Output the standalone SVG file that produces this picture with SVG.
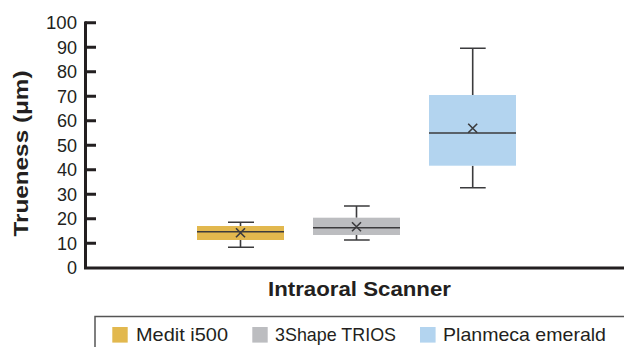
<svg xmlns="http://www.w3.org/2000/svg" width="624" height="347" viewBox="0 0 624 347">
<style>
text{font-family:"Liberation Sans",Arial,sans-serif;fill:#231f20}
.tick{font-size:18px;text-anchor:end}
.title{font-size:20px;font-weight:bold;text-anchor:middle}
.leg{font-size:18.5px}
.axis{stroke:#231f20;stroke-width:3;fill:none}
.wh{stroke:#3b3b3d;stroke-width:1.6;fill:none}
.med{stroke:#3b3b3d;stroke-width:1.6}
</style>
<rect width="624" height="347" fill="#fff"/>
<g id="axes">
<path class="axis" d="M85.5 21.5V268M84 268H624"/>
<path class="axis" d="M85 22.7H96M85 47.2H96M85 71.7H96M85 96.2H96M85 120.7H96M85 145.2H96M85 169.7H96M85 194.2H96M85 218.7H96M85 243.2H96"/>
<g class="tick">
<text x="77" y="29.2" textLength="31" lengthAdjust="spacingAndGlyphs">100</text>
<text x="77" y="53.7">90</text>
<text x="77" y="78.2">80</text>
<text x="77" y="102.7">70</text>
<text x="77" y="127.2">60</text>
<text x="77" y="151.7">50</text>
<text x="77" y="176.2">40</text>
<text x="77" y="200.7">30</text>
<text x="77" y="225.2">20</text>
<text x="77" y="249.7">10</text>
<text x="77" y="274.2">0</text>
</g>
<text class="title" transform="translate(28 153.5) rotate(-90)" textLength="166" lengthAdjust="spacingAndGlyphs">Trueness (μm)</text>
<text class="title" x="359.5" y="295.5" textLength="183" lengthAdjust="spacingAndGlyphs">Intraoral Scanner</text>
</g>
<g id="medit">
<path class="wh" d="M240.5 222.3V226M240.5 240V247.3M228 222.3H254M228 247.3H254"/>
<rect x="197" y="226" width="87" height="14" fill="#e2b84e"/>
<path class="med" d="M197 231.7H284"/>
<path class="wh" d="M236 228.2L245 237.2M245 228.2L236 237.2"/>
</g>
<g id="shape">
<path class="wh" d="M356.5 206V217.7M356.5 235V240M344 206H369.7M344 240H369.7"/>
<rect x="313" y="217.7" width="87" height="17.3" fill="#bcbdc0"/>
<path class="med" d="M313 227.7H400"/>
<path class="wh" d="M352 222.2L361 231.2M361 222.2L352 231.2"/>
</g>
<g id="planmeca">
<path class="wh" d="M472.7 48.3V95M472.7 165.7V187.7M460 48.3H485.7M460 187.7H485.7"/>
<rect x="429" y="95" width="87" height="70.7" fill="#b3d4ef"/>
<path class="med" d="M429 133H516"/>
<path class="wh" d="M468.2 123.8L477.2 132.8M477.2 123.8L468.2 132.8"/>
</g>
<g id="legend">
<path d="M95 347V316.5H624" stroke="#555" stroke-width="1.5" fill="none"/>
<rect x="112.3" y="327" width="15.4" height="15.6" fill="#e2b84e"/>
<text class="leg" x="136" y="341" textLength="92" lengthAdjust="spacingAndGlyphs">Medit i500</text>
<rect x="252.3" y="327" width="15.4" height="15.6" fill="#bcbdc0"/>
<text class="leg" x="275" y="341" textLength="121" lengthAdjust="spacingAndGlyphs">3Shape TRIOS</text>
<rect x="420" y="327" width="15.6" height="15.6" fill="#b3d4ef"/>
<text class="leg" x="443" y="341" textLength="163" lengthAdjust="spacingAndGlyphs">Planmeca emerald</text>
</g>
</svg>
